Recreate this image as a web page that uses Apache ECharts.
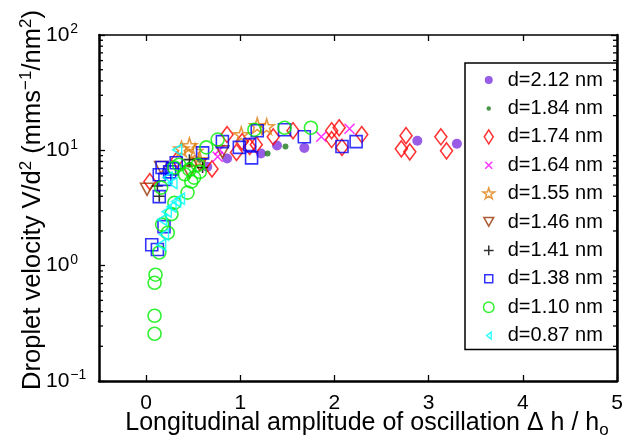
<!DOCTYPE html>
<html><head><meta charset="utf-8">
<script src="https://cdn.jsdelivr.net/npm/echarts@6/dist/echarts.min.js"></script>
<style>html,body{margin:0;padding:0;background:#fff}#c{width:627px;height:443px}</style>
</head><body><div id="c"></div>
<script>
// ---- data ----
const legendNames = ['d=2.12 nm','d=1.84 nm','d=1.74 nm','d=1.64 nm','d=1.55 nm','d=1.46 nm','d=1.41 nm','d=1.38 nm','d=1.10 nm','d=0.87 nm'];
const x212 = [0.65,0.86,1.22,1.39,1.68,2.88,3.30];
const y212 = [7.2,8.5,9.4,11.0,10.5,12.1,11.4];
const x184 = [0.46,0.57,1.29,1.48];
const y184 = [7.5,8.3,9.4,10.8];
const x174 = [0.04,0.33,0.70,0.86,0.96,1.02,1.10,1.17,1.35,1.56,1.97,2.05,1.97,2.08,2.29,2.76,2.71,2.80,3.13,3.19];
const y174 = [5.35,8.3,6.9,13.7,9.6,11.9,10.8,11.2,13.1,14.8,14.8,15.7,12.4,10.6,13.7,13.4,10.3,9.7,13.1,9.9];
const x164 = [0.76,0.78,1.86,2.16];
const y164 = [8.8,10.1,13.1,15.4];
const x155 = [0.375,0.46,0.52,0.57,1.01,1.18,1.28];
const y155 = [10.3,11.0,9.8,8.3,13.7,16.4,16.1];
const x146 = [0.01,0.16,0.46,0.57,0.81];
const y146 = [4.6,7.1,6.5,7.5,9.7];
const x141 = [0.12,0.14,0.46,0.60];
const y141 = [4.9,4.0,8.3,7.1];
const x138 = [0.06,0.12,0.19,0.14,0.14,0.17,0.20,0.25,0.28,0.32,0.60,0.81,0.99,1.12,1.10,1.18,1.47,1.68,2.08,2.23];
const y138 = [1.52,1.38,2.18,3.97,6.15,7.1,5.6,6.5,6.9,7.8,9.5,11.9,10.6,8.6,11.2,14.8,15.1,13.1,10.8,11.9];
const x110 = [0.09,0.09,0.09,0.10,0.14,0.17,0.23,0.27,0.30,0.16,0.44,0.30,0.35,0.41,0.46,0.51,0.55,0.48,0.57,0.64,0.76,1.15,1.47,1.75];
const y110 = [0.257,0.368,0.71,0.835,1.30,2.27,1.93,2.8,3.5,4.75,4.3,7.1,7.5,6.2,6.8,5.8,7.5,5.35,6.5,10.6,12.4,15.1,15.7,15.7];
const x087 = [0.16,0.19,0.17,0.22,0.27,0.32,0.36,0.28,0.33,0.23];
const y087 = [1.52,1.86,2.5,2.94,3.25,3.6,3.8,5.2,10.1,5.8];
const xMin = -0.5, xMax = 5, yMin = 0.1, yMax = 100;
const minorTickVals = [];
[0.1,1,10].forEach(d => { for (let k = 2; k <= 9; k++) minorTickVals.push(+(k*d).toPrecision(3)); });

// ---- styling ----
const FF = 'Liberation Sans, Arial, Helvetica, sans-serif';
const T = 'rgba(0,0,0,0)';
const P = 'path://M0,0M20,20';
const defs = [
  {x:x212,y:y212,symbol:'circle',size:10,fill:'#8033e0',stroke:null,icon:P+'M4.3,10A5.7,5.7,0,1,1,15.7,10A5.7,5.7,0,1,1,4.3,10Z'},
  {x:x184,y:y184,symbol:'circle',size:6,fill:'#1e7a1e',stroke:null,icon:P+'M6.8,10A3.2,3.2,0,1,1,13.2,10A3.2,3.2,0,1,1,6.8,10Z'},
  {x:x174,y:y174,symbol:'diamond',size:[12,16],fill:T,stroke:'#ff0000',icon:P+'M10,0L16.4,10L10,20L3.6,10Z'},
  {x:x164,y:y164,symbol:'path://M0,0L10,10M10,0L0,10',size:10,fill:T,stroke:'#ff00ff',icon:P+'M5,5L15,15M15,5L5,15'},
  {x:x155,y:y155,symbol:'path://M50,0L61.2,34.5L97.6,34.5L68.2,55.9L79.4,90.5L50,69.1L20.6,90.5L31.8,55.9L2.4,34.5L38.8,34.5Z',size:15,fill:T,stroke:'#e08010',icon:P+'M10,1.9L11.93,7.84L18.18,7.84L13.12,11.51L15.06,17.46L10,13.79L4.94,17.46L6.88,11.51L1.82,7.84L8.07,7.84Z'},
  {x:x146,y:y146,symbol:'path://M0,0L10,0L5,9Z',size:[13,12],fill:T,stroke:'#993300',icon:P+'M3,3.5L17,3.5L10,16Z'},
  {x:x141,y:y141,symbol:'path://M5,0L5,10M0,5L10,5',size:11,fill:T,stroke:'#000000',icon:P+'M10,3L10,17M3,10L17,10'},
  {x:x138,y:y138,symbol:'rect',size:12,fill:T,stroke:'#0000ff',icon:P+'M4.3,4.3L15.7,4.3L15.7,15.7L4.3,15.7Z'},
  {x:x110,y:y110,symbol:'circle',size:13,fill:T,stroke:'#00ee00',icon:P+'M2.5,10A7.5,7.5,0,1,1,17.5,10A7.5,7.5,0,1,1,2.5,10Z'},
  {x:x087,y:y087,symbol:'path://M10,0L10,10L0,5Z',size:[9,11],fill:T,stroke:'#00ffff',icon:P+'M13.5,5L13.5,15L7,10Z'}
];

const series = defs.map((d, i) => ({
  name: legendNames[i],
  type: 'scatter',
  symbol: d.symbol,
  symbolSize: d.size,
  symbolKeepAspect: false,
  itemStyle: d.stroke ? {color: d.fill, borderColor: d.stroke, borderWidth: 1.6}
                      : {color: d.fill, borderWidth: 0},
  emphasis: {disabled: true},
  data: d.x.map((v, j) => [v, d.y[j]]),
  z: 3 + i
}));

series.push({
  type: 'custom',
  silent: true,
  clip: false,
  z: 20,
  data: minorTickVals.map(v => [xMin, v]),
  encode: {x: 0, y: 1},
  renderItem: function (params, api) {
    const v = api.value(1);
    const pl = api.coord([xMin, v]);
    const pr = api.coord([xMax, v]);
    return {type: 'group', children: [
      {type: 'line', shape: {x1: pl[0], y1: pl[1], x2: pl[0] + 4, y2: pl[1]}, style: {stroke: '#000', lineWidth: 1.3}},
      {type: 'line', shape: {x1: pr[0] - 4, y1: pr[1], x2: pr[0], y2: pr[1]}, style: {stroke: '#000', lineWidth: 1.3}}
    ]};
  }
});

const axisLine = w => ({show: true, onZero: false, lineStyle: {color: '#000', width: w}});
const tick = {show: true, inside: true, length: 6, lineStyle: {color: '#000', width: 1.3}};

const option = {
  animation: false,
  backgroundColor: '#fff',
  grid: {left: 99, top: 35, width: 518, height: 346, containLabel: false, outerBoundsMode: 'none'},
  xAxis: [
    {type: 'value', min: xMin, max: xMax, position: 'bottom',
     axisLine: axisLine(2.5), axisTick: tick, splitLine: {show: false},
     axisLabel: {showMinLabel: false, color: '#000', fontSize: 21, fontFamily: FF, margin: 12},
     name: 'Longitudinal amplitude of oscillation Δ h / h{sub|o}',
     nameLocation: 'middle', nameGap: 27, nameMoveOverlap: false,
     nameTextStyle: {color: '#000', fontSize: 25, fontFamily: FF, padding: [0, 0, 0, 18],
       rich: {sub: {fontSize: 17, fontFamily: FF, color: '#000', padding: [14, 0, 0, 0]}}}},
    {type: 'value', min: xMin, max: xMax, position: 'top',
     axisLine: axisLine(1.7), axisTick: tick, splitLine: {show: false}, axisLabel: {show: false}}
  ],
  yAxis: [
    {type: 'log', logBase: 10, min: yMin, max: yMax, position: 'left',
     axisLine: axisLine(2.5), axisTick: tick, splitLine: {show: false}, minorTick: {show: false},
     axisLabel: {align: 'left', margin: 53, color: '#000', fontFamily: FF,
       formatter: function (v) {
         const e = Math.round(Math.log10(v));
         return '{b|10}{s|' + (e < 0 ? '\u2212' + (-e) : e) + '}';
       },
       rich: {b: {fontSize: 21, fontFamily: FF, color: '#000'},
              s: {fontSize: 14, fontFamily: FF, color: '#000', padding: [0, 0, 11, 1]}}},
     name: 'Droplet velocity V/d{sup|2} (mms{sup|\u22121}/nm{sup|2})',
     nameLocation: 'middle', nameGap: 52, nameRotate: 90, nameMoveOverlap: false,
     nameTextStyle: {color: '#000', fontSize: 25.5, fontFamily: FF, padding: [0, 0, 0, 16],
       rich: {sup: {fontSize: 17, fontFamily: FF, color: '#000', padding: [0, 0, 12, 0]}}}},
    {type: 'log', logBase: 10, min: yMin, max: yMax, position: 'right',
     axisLine: axisLine(2.5), axisTick: tick, splitLine: {show: false}, axisLabel: {show: false}}
  ],
  legend: {
    orient: 'vertical', left: 465, top: 63,
    padding: [7, 14, 4, 16],
    itemWidth: 14, itemHeight: 14, itemGap: 8.4,
    backgroundColor: '#fff', borderColor: '#000', borderWidth: 1.5,
    selectedMode: false,
    textStyle: {color: '#000', fontSize: 20, fontFamily: FF, lineHeight: 20, padding: [0, 0, 0, 7]},
    data: legendNames.map((n, i) => ({
      name: n, icon: defs[i].icon,
      itemStyle: defs[i].stroke ? {color: defs[i].fill, borderColor: defs[i].stroke, borderWidth: 1.5}
                                : {color: defs[i].fill, borderWidth: 0}
    }))
  },
  series: series
};

const chart = echarts.init(document.getElementById('c'), null, {renderer: 'canvas'});
chart.setOption(option);
</script></body></html>
